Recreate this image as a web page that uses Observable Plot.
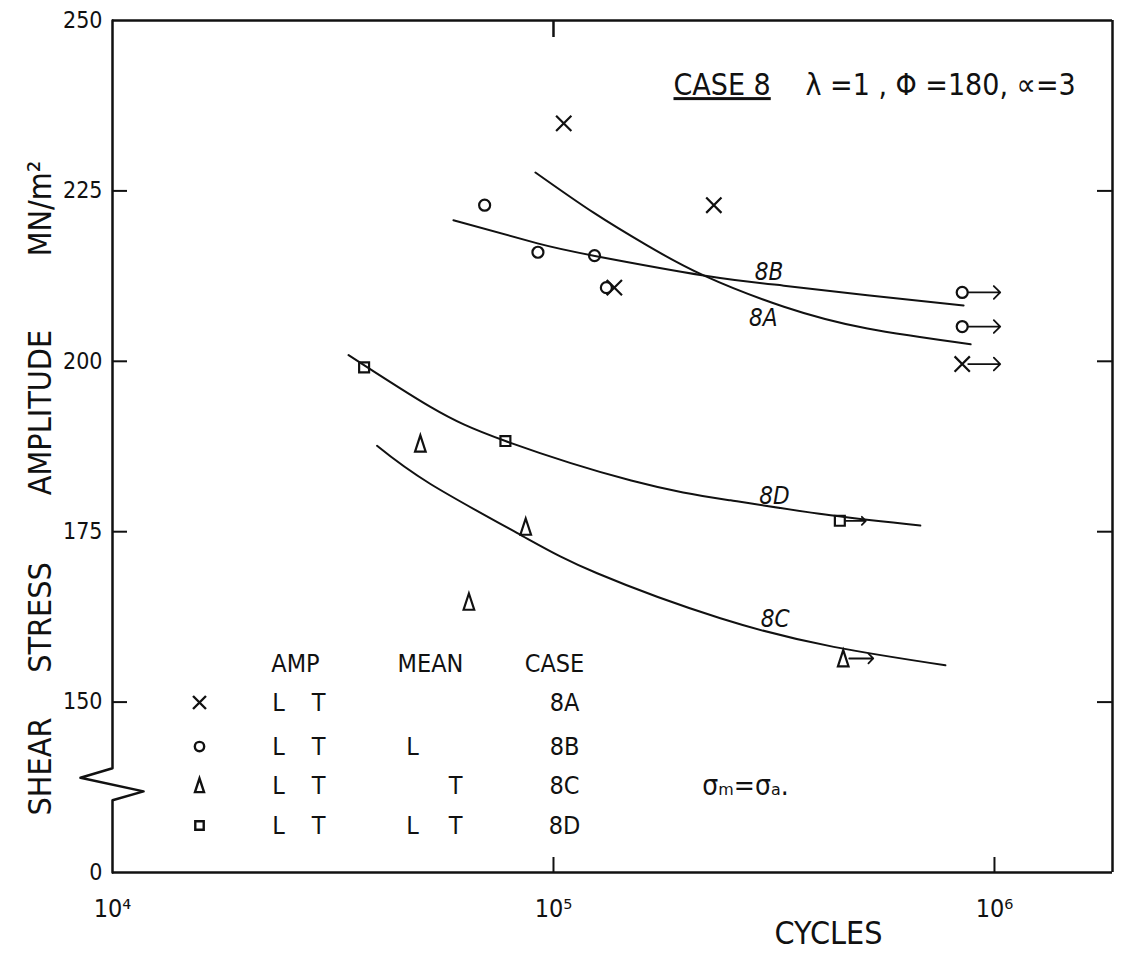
<!DOCTYPE html>
<html><head><meta charset="utf-8">
<script src="https://cdn.jsdelivr.net/npm/d3@7"></script>
<script src="https://cdn.jsdelivr.net/npm/@observablehq/plot@0.6"></script>
<style>
html,body{margin:0;padding:0;background:#fff;}
</style></head><body><div id="chart"></div>
<script>
// ---------- data (cycles N, shear stress amplitude MN/m^2) ----------
const seriesNames = ["8A", "8B", "8C", "8D"];
// failures
const pointsA = [[1.055e5, 234.9], [2.31e5, 222.9], [1.374e5, 210.8]];
const pointsB = [[6.98e4, 222.9], [9.22e4, 216.0], [1.239e5, 215.5], [1.318e5, 210.8]];
const pointsC = [[4.99e4, 187.9], [8.65e4, 175.7], [6.43e4, 164.7]];
const pointsD = [[3.72e4, 199.1], [7.78e4, 188.3]];
// run-outs (unbroken specimens)
const runoutA = [[8.45e5, 199.6]];
const runoutB = [[8.45e5, 210.1], [8.45e5, 205.1]];
const runoutC = [[4.54e5, 156.4]];
const runoutD = [[4.46e5, 176.6]];
// fitted S-N curves
const curveA = [[9.1e4, 227.7], [1.233e5, 221.8], [1.63e5, 217.0], [2.19e5, 212.6], [3.33e5, 208.0], [5.15e5, 204.8], [8.83e5, 202.5]];
const curveB = [[5.93e4, 220.7], [9.2e4, 217.3], [1.233e5, 215.5], [2.19e5, 212.6], [3.33e5, 211.1], [5.15e5, 209.7], [8.51e5, 208.2]];
const curveC = [[3.98e4, 187.6], [5.26e4, 182.0], [8.49e4, 174.4], [1.256e5, 168.9], [2.39e5, 162.3], [4.32e5, 158.1], [7.74e5, 155.4]];
const curveD = [[3.43e4, 200.9], [5.26e4, 193.3], [7.78e4, 188.3], [1.50e5, 182.5], [2.52e5, 179.6], [4.25e5, 177.4], [6.79e5, 175.9]];
// curve label anchor points
const curveLabelPos = [[2.99e5, 206.3], [3.08e5, 213.0], [3.18e5, 162.1], [3.17e5, 180.2]];
// axis ticks
const xTickValues = [1e4, 1e5, 1e6];
const xTickLabels = ["10\u2074", "10\u2075", "10\u2076"];
const yTickValues = [0, 150, 175, 200, 225, 250];
const yTickLabels = ["0", "150", "175", "200", "225", "250"];
const yInnerTicks = [150, 175, 200, 225];
// legend table
const legendHeader = ["AMP", "MEAN", "CASE"];
const legendAmpL = ["L", "L", "L", "L"];
const legendAmpT = ["T", "T", "T", "T"];
const legendMeanL = ["", "L", "", "L"];
const legendMeanT = ["", "", "T", "T"];
const legendCase = ["8A", "8B", "8C", "8D"];

// ---------- layout ----------
const W = 1128, H = 961;
const mL = 112, mR = 16, mT = 20, mB = 89;
const pw = W - mL - mR, ph = H - mT - mB;
const xDomain = [1e4, 1.852e6];
const yZeroAt = 125;                 // broken axis: 0 drawn one interval below 150
const yPos = v => v === 0 ? yZeroAt : v;
// axis break zig-zag (in scale units)
const breakPath = [[1e4, 125], [1e4, 135.6], [1.176e4, 136.9], [0.846e4, 138.9], [1e4, 140.3], [1e4, 250]];

const FONT = '"DejaVu Sans Condensed", "DejaVu Sans", sans-serif';
const ink = "#111";

// tall triangle symbol like the drawn Δ
const tallTriangle = {
  draw(ctx, size) {
    const s = Math.sqrt(size / Math.PI);
    ctx.moveTo(0, -1.5 * s);
    ctx.lineTo(0.95 * s, 1.4 * s);
    ctx.lineTo(-0.95 * s, 1.4 * s);
    ctx.closePath();
  }
};
const symbols = {"8A": "times", "8B": "circle", "8C": tallTriangle, "8D": "square"};
const radii = {"8A": 7, "8B": 5.5, "8C": 5.6, "8D": 5.6};
const failures = {"8A": pointsA, "8B": pointsB, "8C": pointsC, "8D": pointsD};
const runouts = {"8A": runoutA, "8B": runoutB, "8C": runoutC, "8D": runoutD};
const runLen = {"8A": 32, "8B": 32, "8C": 24, "8D": 20};
const curves = {"8A": curveA, "8B": curveB, "8C": curveC, "8D": curveD};

const X = d => d[0], Y = d => d[1];
const marks = [];
// helper for annotation text placed in pixel coordinates of the page
const label = (t, px, py, opts = {}) => Plot.text([t], {
  text: d => d, frameAnchor: "top-left", dx: px - mL, dy: py - mT,
  textAnchor: "middle", lineAnchor: "middle", fill: ink, ...opts
});

// frame with broken left axis
marks.push(Plot.ruleY([250], {stroke: ink, strokeWidth: 2.5}));
marks.push(Plot.ruleY([yZeroAt], {stroke: ink, strokeWidth: 2.5}));
marks.push(Plot.ruleX([xDomain[1]], {stroke: ink, strokeWidth: 2.5}));
marks.push(Plot.line(breakPath, {x: X, y: Y, stroke: ink, strokeWidth: 2.5}));
// inward ticks
marks.push(Plot.ruleY(yInnerTicks, {stroke: ink, strokeWidth: 2, insetRight: pw - 15}));
marks.push(Plot.ruleY(yInnerTicks, {stroke: ink, strokeWidth: 2, insetLeft: pw - 15}));
marks.push(Plot.ruleX([1e5], {stroke: ink, strokeWidth: 2.5, insetBottom: ph - 17}));
marks.push(Plot.ruleX([1e5, 1e6], {stroke: ink, strokeWidth: 2, insetTop: ph - 15}));

// axes labels
marks.push(Plot.axisY({
  ticks: yTickValues.map(yPos), tickSize: 0, tickPadding: 10, fontSize: 23, label: null,
  tickFormat: v => yTickLabels[yTickValues.map(yPos).indexOf(v)]
}));
marks.push(Plot.axisX({
  ticks: xTickValues, tickSize: 0, tickPadding: 27, fontSize: 25, label: null,
  tickFormat: v => xTickLabels[xTickValues.indexOf(v)]
}));

// curves, points, run-outs
for (const s of seriesNames) {
  marks.push(Plot.line(curves[s], {x: X, y: Y, curve: "natural", stroke: ink, strokeWidth: 2}));
  marks.push(Plot.dot(failures[s], {x: X, y: Y, symbol: symbols[s], r: radii[s], fill: "none", stroke: ink, strokeWidth: 2.2}));
  marks.push(Plot.dot(runouts[s], {x: X, y: Y, symbol: symbols[s], r: radii[s], fill: "none", stroke: ink, strokeWidth: 2.2}));
  marks.push(Plot.vector(runouts[s], {x: X, y: Y, rotate: 90, length: runLen[s], anchor: "start", dx: 6, stroke: ink, strokeWidth: 1.8}));
}
seriesNames.forEach((s, i) => {
  marks.push(Plot.text([curveLabelPos[i]], {x: X, y: Y, text: () => s, fontSize: 24, fontStyle: "italic", fill: ink}));
});

// title
marks.push(label("CASE 8", 673, 85, {textAnchor: "start", fontSize: 30}));
marks.push(label("\u03bb =1 , \u03a6 =180, \u221d=3", 805, 85, {textAnchor: "start", fontSize: 30}));

// axis titles
const yTitleWords = ["SHEAR", "STRESS", "AMPLITUDE", "MN/m\u00b2"];
const yTitleCenters = [766, 617, 412, 208];
yTitleWords.forEach((w, i) => marks.push(label(w, 40, yTitleCenters[i], {rotate: -90, fontSize: 32})));
marks.push(label("CYCLES", 828, 933, {fontSize: 32}));

// legend table
const legX = {sym: 199, ampL: 278, ampT: 318, meanL: 412, meanT: 455, caseC: 564};
const legHeadX = [295, 430, 554];
const legHeadY = 663;
const legRowY = [702, 746, 785, 825];
legendHeader.forEach((h, i) => marks.push(label(h, legHeadX[i], legHeadY, {fontSize: 25})));
legendCase.forEach((c, i) => {
  const py = legRowY[i];
  marks.push(Plot.dot([0], {frameAnchor: "top-left", dx: legX.sym - mL, dy: py - mT, symbol: symbols[c], r: radii[c] * 0.85, fill: "none", stroke: ink, strokeWidth: 2.4}));
  const cells = [[legendAmpL[i], legX.ampL], [legendAmpT[i], legX.ampT], [legendMeanL[i], legX.meanL], [legendMeanT[i], legX.meanT], [c, legX.caseC]];
  for (const [t, x] of cells) if (t) marks.push(label(t, x, py, {fontSize: 25}));
});
marks.push(label("\u03c3\u2098=\u03c3\u2090.", 745, 786, {fontSize: 28}));

const chart = Plot.plot({
  width: W, height: H,
  marginLeft: mL, marginRight: mR, marginTop: mT, marginBottom: mB,
  style: {fontFamily: FONT, background: "white", color: ink, overflow: "visible"},
  x: {type: "log", domain: xDomain},
  y: {type: "linear", domain: [yZeroAt, 250]},
  marks
});
d3.select(chart).selectAll("text").filter(function () { return this.textContent === "CASE 8"; })
  .style("text-decoration", "underline");
document.getElementById("chart").append(chart);
</script>
</body></html>
